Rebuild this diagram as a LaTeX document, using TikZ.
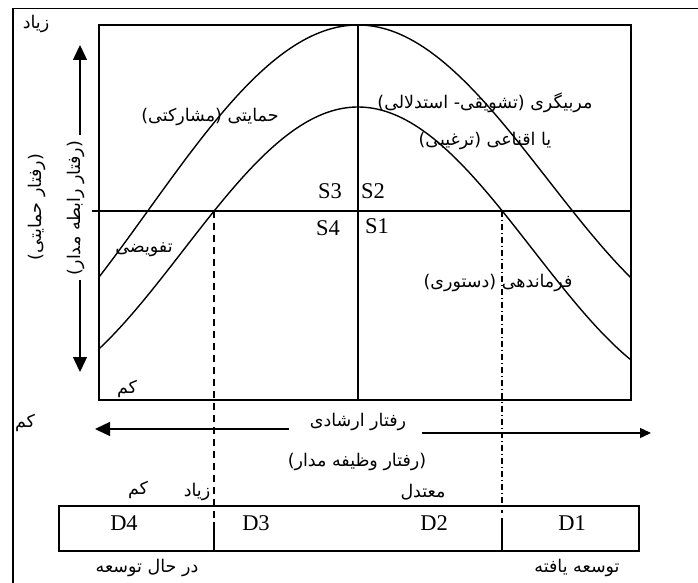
\documentclass[tikz,border=0pt]{standalone}
\usepackage{fontspec}
\setmainfont{Liberation Serif}
\newfontfamily\fafont[Script=Arabic]{DejaVu Sans}
\TeXXeTstate=1
\usetikzlibrary{arrows.meta}
\begin{document}
\begin{tikzpicture}[x=1pt,y=-1pt,line width=1.4pt,
  fa/.style={font=\fafont\fontsize{17.5}{20}\selectfont,inner sep=0pt},
  lat/.style={font=\fontsize{22.5}{25}\selectfont,inner sep=0pt},
  bigtip/.style={-{Triangle[length=15pt,width=14pt]}},
  smalltip/.style={-{Triangle[length=11pt,width=10pt]}},
  dashline/.style={dash pattern=on 7pt off 5pt},
  dashdotline/.style={dash pattern=on 6pt off 3pt on 1pt off 3pt}]
\useasboundingbox (0,0) rectangle (698,583);
% outer frame
\coordinate (fB) at (13,583);
\coordinate (fTL) at (13,8.5);
\coordinate (fTR) at (698,8.5);
\draw[line width=1.8pt] (fB) -- (fTL) -- (fTR);
% inner box
\coordinate (bTL) at (99,25);
\coordinate (bBR) at (631,400);
\draw (bTL) rectangle (bBR);
\coordinate (vT) at (358,25);
\coordinate (vB) at (358,400);
\draw (vT) -- (vB);
\coordinate (hL) at (92,211);
\coordinate (hR) at (631,211);
\draw (hL) -- (hR);
% curves
\draw plot[domain=99:358,samples=90] (\x,{25+185.6*(1-cos(0.428571*(358-\x)))});
\draw plot[domain=358:631,samples=90] (\x,{25+154.8*(1-cos(0.473684*(\x-358)))});
\draw plot[domain=99:358,samples=90] (\x,{107+143.6*(1-cos(0.514286*(358-\x)))});
\draw plot[domain=358:631,samples=90] (\x,{107+142.9*(1-cos(0.514286*(\x-358)))});
% vertical guide lines
\coordinate (g1T) at (214,211);
\coordinate (g1B) at (214,520);
\coordinate (g2T) at (502,211);
\coordinate (g2B) at (502,513);
\draw[dashline] (g1T) -- (g1B);
\draw[dashdotline,line width=1.1pt] (g2T) -- (g2B);
% D box
\coordinate (dTL) at (59,506);
\coordinate (dBR) at (639,551);
\draw (dTL) rectangle (dBR);
\coordinate (s1T) at (214,522);
\coordinate (s1B) at (214,551);
\coordinate (s2T) at (502,518);
\coordinate (s2B) at (502,551);
\draw (s1T) -- (s1B);
\draw (s2T) -- (s2B);
% vertical arrow
\coordinate (aUs) at (80,135);
\coordinate (aUe) at (80,45);
\coordinate (aDs) at (80,280);
\coordinate (aDe) at (80,372);
\draw[bigtip] (aUs) -- (aUe);
\draw[bigtip] (aDs) -- (aDe);
% horizontal arrow
\coordinate (aLs) at (289,429);
\coordinate (aLe) at (95,429);
\coordinate (aRs) at (422,433);
\coordinate (aRe) at (651,433);
\draw[bigtip] (aLs) -- (aLe);
\draw[smalltip] (aRs) -- (aRe);
% texts
\node[fa] (zTop) at (36,24) {\beginR زیاد\endR};
\node[fa] (hem) at (210,117) {\beginR حمایتی (مشارکتی)\endR};
\node[fa] (morab) at (485,103) {\beginR مربیگری (تشویقی- استدلالی)\endR};
\node[fa] (eqna) at (485,141) {\beginR یا اقناعی (ترغیبی)\endR};
\node[fa] (tafv) at (144,250) {\beginR تفویضی\endR};
\node[fa] (farm) at (498,283) {\beginR فرماندهی (دستوری)\endR};
\node[fa,rotate=90] (rHem) at (37,207) {\beginR (رفتار حمایتی)\endR};
\node[fa,rotate=90] (rRab) at (76,208) {\beginR (رفتار رابطه مدار)\endR};
\node[fa] (kmIn) at (127,389) {\beginR کم\endR};
\node[fa] (kmL) at (25,423) {\beginR کم\endR};
\node[fa] (ersh) at (358,422) {\beginR رفتار ارشادی\endR};
\node[fa] (vaz) at (357,462) {\beginR (رفتار وظیفه مدار)\endR};
\node[fa] (motd) at (423,492) {\beginR معتدل\endR};
\node[fa] (zBot) at (197,492) {\beginR زیاد\endR};
\node[fa] (kBot) at (138,490) {\beginR کم\endR};
\node[fa] (dar) at (147,568) {\beginR در حال توسعه\endR};
\node[fa] (yaft) at (577,568) {\beginR توسعه یافته\endR};
\node[lat] (S3) at (330,191) {S3};
\node[lat] (S2) at (373,191) {S2};
\node[lat] (S4) at (328,228) {S4};
\node[lat] (S1) at (377,226) {S1};
\node[lat] (D4) at (124,523) {D4};
\node[lat] (D3) at (256,523) {D3};
\node[lat] (D2) at (434,523) {D2};
\node[lat] (D1) at (572,523) {D1};
\end{tikzpicture}
\end{document}
